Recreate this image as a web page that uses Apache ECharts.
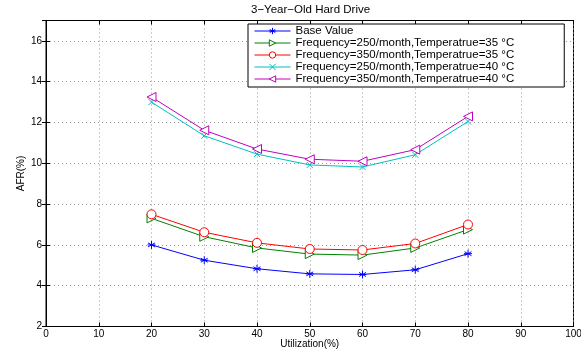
<!DOCTYPE html>
<html><head><meta charset="utf-8">
<script src="https://cdn.jsdelivr.net/npm/echarts@6/dist/echarts.min.js"></script>
<style>html,body{margin:0;padding:0;background:#fff}#c{width:581px;height:352px}</style>
</head><body><div id="c"></div>
<script>
const utilization = [20, 30, 40, 50, 60, 70, 80];
const baseValue = [6.0, 5.25, 4.83, 4.58, 4.55, 4.78, 5.57];
const f250t35 = [7.3, 6.4, 5.85, 5.55, 5.5, 5.85, 6.75];
const f350t35 = [7.5, 6.62, 6.1, 5.8, 5.75, 6.07, 7.0];
const f250t40 = [13.0, 11.35, 10.45, 9.92, 9.82, 10.42, 12.05];
const f350t40 = [13.25, 11.62, 10.7, 10.2, 10.1, 10.67, 12.3];
const seriesNames = ['Base Value','Frequency=250/month,Temperatrue=35 \u00B0C','Frequency=350/month,Temperatrue=35 \u00B0C','Frequency=250/month,Temperatrue=40 \u00B0C','Frequency=350/month,Temperatrue=40 \u00B0C'];
const xTicks = [0,10,20,30,40,50,60,70,80,90,100];
const yTicks = [2,4,6,8,10,12,14,16];

const FONT = 'Liberation Sans';
const pair = arr => utilization.map((x,i)=>[x, arr[i]]);
const star = 'path://M0,-5L0,5M-4.33,-2.5L4.33,2.5M-4.33,2.5L4.33,-2.5M-5,0L5,0';
const cross = 'path://M-4,-4L4,4M-4,4L4,-4';
const triR = 'path://M0,0L10,5L0,10Z';
const triL = 'path://M10,0L0,5L10,10Z';
function mk(name, data, color, symbol, size, hollowFill){
  return {
    name, type:'line', data: pair(data), color,
    symbol, symbolSize: size,
    lineStyle:{color, width:1},
    itemStyle:{color: hollowFill ? '#fff' : color, borderColor: color, borderWidth: 1},
    emphasis:{disabled:true}, animation:false
  };
}
const chart = echarts.init(document.getElementById('c'));
chart.setOption({
  animation:false,
  title:{text:'3\u2212Year\u2212Old Hard Drive', left:251, top:4, padding:0,
    textStyle:{fontFamily:FONT, fontSize:11.5, fontWeight:'normal', color:'#000'}},
  grid:{left:46, right:7.5, top:20.5, bottom:25.5, show:true, borderColor:'#000', borderWidth:1, outerBoundsMode:'none', containLabel:false},
  legend:{
    orient:'vertical', left:248, top:24, itemGap:0, itemWidth:36, itemHeight:8,
    padding:[1,50,2,6],
    backgroundColor:'#fff', borderColor:'#000', borderWidth:1,
    lineStyle:{width:1}, itemStyle:{borderWidth:1},
    textStyle:{fontFamily:FONT, fontSize:11.5, color:'#000', lineHeight:12},
    data: seriesNames
  },
  xAxis:[{
    type:'value', min:0, max:100, interval:10,
    name:'Utilization(%)', nameLocation:'middle', nameGap:13, nameMoveOverlap:false,
    nameTextStyle:{fontFamily:FONT, fontSize:10, color:'#000'},
    axisLine:{lineStyle:{color:'#000'}},
    axisTick:{inside:true, length:4, lineStyle:{color:'#000'}},
    axisLabel:{fontFamily:FONT, fontSize:10, color:'#000', margin:3,
      formatter:v=> xTicks.includes(v)? String(v):''},
    splitLine:{show:true, lineStyle:{color:'#999', type:[1,3], width:1}}
  },{
    type:'value', min:0, max:100, interval:10, position:'top',
    axisLine:{lineStyle:{color:'#000'}},
    axisTick:{inside:true, length:4, lineStyle:{color:'#000'}},
    axisLabel:{show:false}, splitLine:{show:false}
  }],
  yAxis:[{
    type:'value', min:2, max:17, interval:2,
    name:'AFR(%)', nameLocation:'middle', nameGap:20, nameRotate:90, nameMoveOverlap:false,
    nameTextStyle:{fontFamily:FONT, fontSize:10, color:'#000'},
    axisLine:{show:true, lineStyle:{color:'#000'}},
    axisTick:{show:true, inside:true, length:4, lineStyle:{color:'#000'}},
    axisLabel:{fontFamily:FONT, fontSize:10, color:'#000', margin:4, showMaxLabel:false,
      formatter:v=> yTicks.includes(v)? String(v):''},
    splitLine:{show:true, lineStyle:{color:'#999', type:[1,3], width:1}}
  },{
    type:'value', min:2, max:17, interval:2, position:'right',
    axisLine:{show:true, lineStyle:{color:'#000'}},
    axisTick:{show:true, inside:true, length:4, lineStyle:{color:'#000'}},
    axisLabel:{show:false}, splitLine:{show:false}
  }],
  series:[
    mk(seriesNames[0], baseValue, '#0000ff', star, 8, false),
    mk(seriesNames[1], f250t35, '#008000', triR, 9, true),
    mk(seriesNames[2], f350t35, '#ff0000', 'circle', 9, true),
    mk(seriesNames[3], f250t40, '#00bfbf', cross, 6, false),
    mk(seriesNames[4], f350t40, '#bf00bf', triL, 9, true)
  ]
});
</script></body></html>
